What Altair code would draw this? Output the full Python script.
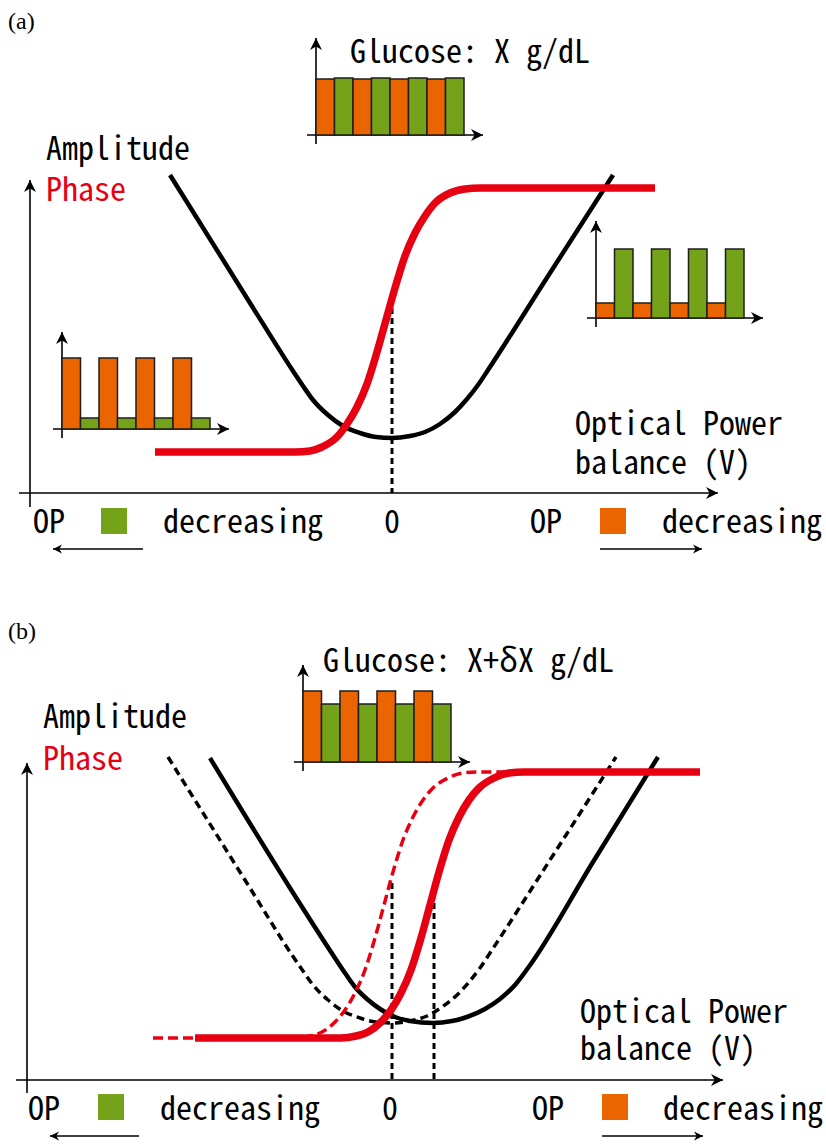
import altair as alt
import pandas as pd

W, H = 826, 1144
MONO = "Noto Sans Mono CJK JP, DejaVu Sans Mono, monospace"
SERIF = "Liberation Serif, Times New Roman, serif"
BLACK = "#000000"
RED = "#e60012"
ORANGE = "#ea6400"
GREEN = "#74a219"

# ---------------------------------------------------------------- curves
# Panel (a): amplitude (V-shaped) and phase (sigmoid) against optical power balance
amp_a_x = [170, 250, 293, 303, 313, 328, 343, 360, 376, 392, 410, 425, 440, 455, 467, 478, 488, 550, 613]
amp_a_y = [175, 303, 371, 386, 400, 415, 426, 433, 437, 438, 436, 432, 424, 412, 399, 385, 370, 273, 175]
phase_a_x = [155, 295, 310, 322, 337, 347, 357, 367, 377, 386, 395, 405, 415, 425, 435, 450, 465, 480, 655]
phase_a_y = [452, 452, 451, 447, 437, 424, 407, 384, 352, 320, 288, 256, 233, 216, 203, 193, 189, 188, 188]

# Panel (b): reference curves (dashed) and shifted curves after glucose change (solid)
amp_b_ref_x = [168, 250, 292, 303, 313, 328, 343, 360, 376, 392, 410, 427, 442, 457, 469, 480, 490, 550, 616]
amp_b_ref_y = [757, 888, 955, 971, 985, 1000, 1011, 1018, 1022, 1023, 1021, 1016, 1007, 995, 982, 968, 953, 860, 757]
amp_b_x = [210, 290, 333, 345, 355, 367, 380, 395, 410, 433, 452, 467, 485, 500, 515, 528, 593, 658]
amp_b_y = [758, 888, 955, 973, 987, 999, 1009, 1017, 1021, 1023, 1021, 1017, 1009, 999, 985, 968, 862, 757]
phase_b_ref_x = [153, 295, 310, 322, 335, 345, 355, 365, 375, 384, 393, 403, 413, 423, 433, 448, 463, 478, 655]
phase_b_ref_y = [1038, 1038, 1036, 1032, 1022, 1010, 993, 970, 938, 905, 872, 840, 817, 800, 788, 778, 773, 772, 772]
phase_b_x = [195, 341, 356, 368, 381, 391, 401, 411, 421, 430, 439, 449, 459, 469, 479, 494, 509, 524, 700]
phase_b_y = [1038, 1038, 1036, 1032, 1022, 1010, 993, 970, 938, 905, 872, 840, 817, 800, 788, 778, 773, 772, 772]

# ---------------------------------------------------------------- inset bar charts
inset_names = ["glucose_a", "low_a", "high_a", "glucose_b"]
inset_origin_x = [316, 62, 596, 303]
inset_origin_y = [135, 429, 318, 762]
inset_heights = [
    [56, 57, 56, 57, 56, 57, 56, 57],
    [71, 11, 71, 11, 71, 11, 71, 11],
    [15, 69, 15, 69, 15, 69, 15, 69],
    [71, 58, 71, 58, 71, 58, 71, 58],
]
bar_colors = [ORANGE, GREEN]
BAR_W = 18.5

# ---------------------------------------------------------------- text
mono_text = [
    "Glucose: X g/dL", "Amplitude", "Phase", "Optical Power", "balance (V)",
    "OP", "decreasing", "0", "OP", "decreasing",
    "Glucose: X+δX g/dL", "Amplitude", "Phase", "Optical Power", "balance (V)",
    "OP", "decreasing", "0", "OP", "decreasing",
]
mono_x = [350, 46, 46, 575, 575, 33, 163, 384, 530, 662,
          323, 43, 43, 580, 580, 28, 160, 382, 532, 663]
mono_y = [63, 160, 201, 435, 474, 533, 533, 533, 533, 533,
          672, 728, 770, 1023, 1060, 1120, 1120, 1120, 1120, 1120]
mono_color = [BLACK, BLACK, RED, BLACK, BLACK, BLACK, BLACK, BLACK, BLACK, BLACK,
              BLACK, BLACK, RED, BLACK, BLACK, BLACK, BLACK, BLACK, BLACK, BLACK]

panel_labels = ["(a)", "(b)"]
panel_label_x = [8, 8]
panel_label_y = [29, 639]

# coloured key squares next to "OP"
key_x = [101, 600, 98, 602]
key_y = [508, 508, 1094, 1094]
key_color = [GREEN, ORANGE, GREEN, ORANGE]
KEY = 26

# ---------------------------------------------------------------- layout pieces
# main axes: (x, y, x2, y2) with arrow at (x2, y2)
main_axes = [
    (30, 507, 30, 180), (19, 493, 718, 493),
    (27, 1093, 27, 763), (16, 1080, 723, 1080),
]
# "decreasing" direction arrows below the axis
dir_arrows = [
    (143, 549, 53, 549), (600, 549, 702, 549),
    (139, 1136, 50, 1136), (602, 1136, 703, 1136),
]
# dashed guides at the operating points
guides = [(392, 298, 392, 493), (392, 883, 392, 1080), (434, 883, 434, 1080)]

# ---------------------------------------------------------------- build tables
def curve_rows(name, xs, ys):
    return [{"curve": name, "x": a, "y": b} for a, b in zip(xs, ys)]

amp_solid = pd.DataFrame(curve_rows("a", amp_a_x, amp_a_y) + curve_rows("b", amp_b_x, amp_b_y))
amp_dash = pd.DataFrame(curve_rows("bref", amp_b_ref_x, amp_b_ref_y))
phase_solid = pd.DataFrame(curve_rows("a", phase_a_x, phase_a_y) + curve_rows("b", phase_b_x, phase_b_y))
phase_dash = pd.DataFrame(curve_rows("bref", phase_b_ref_x, phase_b_ref_y))

bar_rows, inset_axis_rows = [], []
for name, ox, oy, hs in zip(inset_names, inset_origin_x, inset_origin_y, inset_heights):
    for i, h in enumerate(hs):
        bar_rows.append({"inset": name, "x": ox + i * BAR_W, "x2": ox + (i + 1) * BAR_W,
                         "y": oy, "y2": oy - h, "fill": bar_colors[i % 2]})
    inset_axis_rows.append({"x": ox, "y": oy + 9, "x2": ox, "y2": oy - 97})
    inset_axis_rows.append({"x": ox - 9, "y": oy, "x2": ox + 167, "y2": oy})


def angle_of(x, y, x2, y2):
    if x2 > x:
        return 0
    if x2 < x:
        return 180
    return 270 if y2 < y else 90


axis_rows = [{"x": a, "y": b, "x2": c, "y2": d} for a, b, c, d in main_axes] + inset_axis_rows
big_heads = pd.DataFrame([{"x": r["x2"], "y": r["y2"], "angle": angle_of(r["x"], r["y"], r["x2"], r["y2"])}
                          for r in axis_rows])
dir_df = pd.DataFrame([{"x": a, "y": b, "x2": c, "y2": d} for a, b, c, d in dir_arrows])
small_heads = pd.DataFrame([{"x": c, "y": d, "angle": angle_of(a, b, c, d)} for a, b, c, d in dir_arrows])
guide_df = pd.DataFrame([{"x": a, "y": b, "x2": c, "y2": d} for a, b, c, d in guides])
bars = pd.DataFrame(bar_rows)
axes_df = pd.DataFrame(axis_rows)
keys = pd.DataFrame({"x": key_x, "x2": [v + KEY for v in key_x], "y": key_y,
                     "y2": [v + KEY for v in key_y], "fill": key_color})
mono_df = pd.DataFrame({"text": mono_text, "x": mono_x, "y": mono_y, "color": mono_color})
label_df = pd.DataFrame({"text": panel_labels, "x": panel_label_x, "y": panel_label_y})

# ---------------------------------------------------------------- encodings
X = alt.X("x:Q", scale=alt.Scale(domain=[0, W], nice=False, zero=False), axis=None)
Y = alt.Y("y:Q", scale=alt.Scale(domain=[0, H], nice=False, zero=False, reverse=True), axis=None)
X2 = alt.X2("x2:Q")
Y2 = alt.Y2("y2:Q")

# stealth arrowhead with its tip at the origin, pointing right
ARROW = "M 0 0 L -2 -1 L -1.4 0 L -2 1 Z"


def line(df, color, width, dash=None):
    kw = dict(color=color, strokeWidth=width, interpolate="monotone")
    if dash:
        kw["strokeDash"] = dash
    return alt.Chart(df).mark_line(**kw).encode(x=X, y=Y, detail="curve:N")


axes_layer = alt.Chart(axes_df).mark_rule(color=BLACK, strokeWidth=1.6).encode(x=X, y=Y, x2=X2, y2=Y2)
heads_layer = alt.Chart(big_heads).mark_point(
    shape=ARROW, filled=True, size=144, color=BLACK, opacity=1, strokeWidth=0
).encode(x=X, y=Y, angle=alt.Angle("angle:Q", scale=None))
dir_layer = alt.Chart(dir_df).mark_rule(color=BLACK, strokeWidth=1.5).encode(x=X, y=Y, x2=X2, y2=Y2)
small_heads_layer = alt.Chart(small_heads).mark_point(
    shape=ARROW, filled=True, size=81, color=BLACK, opacity=1, strokeWidth=0
).encode(x=X, y=Y, angle=alt.Angle("angle:Q", scale=None))
bars_layer = alt.Chart(bars).mark_rect(stroke="#1e1e1e", strokeWidth=1.5).encode(
    x=X, x2=X2, y=Y, y2=Y2, color=alt.Color("fill:N", scale=None)
)
keys_layer = alt.Chart(keys).mark_rect().encode(
    x=X, x2=X2, y=Y, y2=Y2, color=alt.Color("fill:N", scale=None)
)
guide_layer = alt.Chart(guide_df).mark_rule(color=BLACK, strokeWidth=3, strokeDash=[6, 4]).encode(
    x=X, y=Y, x2=X2, y2=Y2
)
mono_layer = alt.Chart(mono_df).mark_text(
    font=MONO, fontSize=32, align="left", baseline="alphabetic"
).encode(x=X, y=Y, text="text:N", color=alt.Color("color:N", scale=None))
label_layer = alt.Chart(label_df).mark_text(
    font=SERIF, fontSize=24, align="left", baseline="alphabetic", color=BLACK
).encode(x=X, y=Y, text="text:N")

chart = alt.layer(
    axes_layer,
    heads_layer,
    dir_layer,
    small_heads_layer,
    bars_layer,
    keys_layer,
    guide_layer,
    line(amp_dash, BLACK, 3.5, [8, 5]),
    line(amp_solid, BLACK, 4.5),
    line(phase_dash, RED, 3.5, [10, 5]),
    line(phase_solid, RED, 7.5),
    mono_layer,
    label_layer,
).properties(
    width=W, height=H, autosize="none", padding=0, background="white"
).configure_view(stroke=None)

chart.save("out.html", embed_options={"renderer": "svg", "actions": False})
